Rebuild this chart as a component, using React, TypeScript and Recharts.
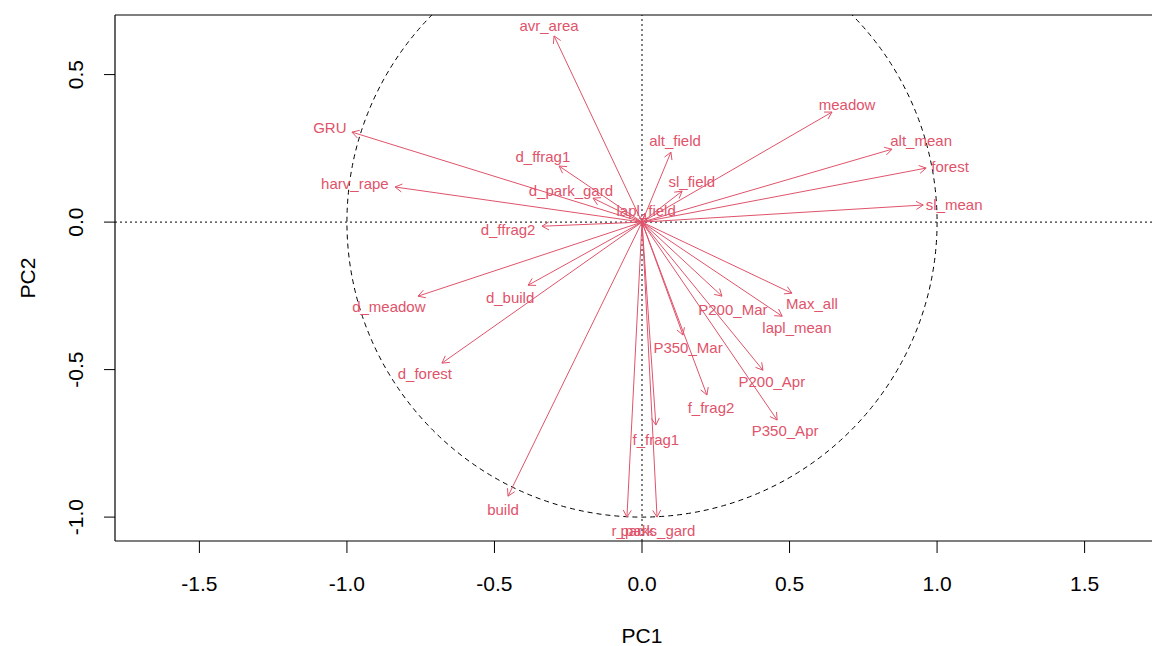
import React from 'react';
import { ScatterChart, Scatter, XAxis, YAxis, ReferenceLine, ReferenceArea, Label } from 'recharts';

const RED = '#DF536B';
const FONT = '"Liberation Sans", Arial, Helvetica, sans-serif';

// variable loadings (arrow tips) on PC1 / PC2
const variables = [
  'avr_area', 'GRU', 'harv_rape', 'd_ffrag1', 'd_park_gard', 'd_ffrag2', 'lapl_field',
  'alt_field', 'sl_field', 'meadow', 'alt_mean', 'forest', 'sl_mean',
  'd_meadow', 'd_build', 'd_forest', 'build', 'r_park', 'parks_gard',
  'f_frag1', 'f_frag2', 'P350_Mar', 'P200_Mar', 'Max_all', 'lapl_mean', 'P200_Apr', 'P350_Apr',
];
const pc1 = [
  -0.298, -0.983, -0.837, -0.281, -0.166, -0.339, 0.01,
  0.098, 0.136, 0.644, 0.847, 0.963, 0.953,
  -0.759, -0.386, -0.678, -0.454, -0.051, 0.051,
  0.047, 0.22, 0.139, 0.271, 0.508, 0.475, 0.41, 0.458,
];
const pc2 = [
  0.631, 0.305, 0.119, 0.19, 0.081, -0.014, 0.03,
  0.237, 0.105, 0.373, 0.247, 0.183, 0.058,
  -0.251, -0.214, -0.478, -0.929, -1.0, -1.0,
  -0.688, -0.586, -0.383, -0.251, -0.241, -0.319, -0.502, -0.671,
];
// where each name is written
const labelPc1 = [
  -0.315, -1.058, -0.973, -0.336, -0.241, -0.454, 0.014,
  0.112, 0.169, 0.695, 0.946, 1.044, 1.058,
  -0.858, -0.447, -0.736, -0.471, -0.031, 0.054,
  0.047, 0.234, 0.156, 0.308, 0.576, 0.525, 0.44, 0.485,
];
const labelPc2 = [
  0.668, 0.322, 0.132, 0.224, 0.108, -0.024, 0.041,
  0.275, 0.136, 0.397, 0.278, 0.19, 0.061,
  -0.285, -0.254, -0.512, -0.973, -1.047, -1.047,
  -0.736, -0.627, -0.424, -0.295, -0.275, -0.356, -0.542, -0.708,
];

const xTicks = [-1.5, -1, -0.5, 0, 0.5, 1, 1.5];
const yTicks = [-1, -0.5, 0, 0.5];
const xDomain = [-1.786, 1.786];
const yDomain = [-1.081, 0.702];

const labels = variables.map((name, i) => ({ name, x: labelPc1[i], y: labelPc2[i] }));

const ArrowShape = (props: any) => {
  const { x1, y1, x2, y2 } = props;
  const ang = Math.atan2(y2 - y1, x2 - x1);
  const len = 8;
  const spread = Math.PI / 6;
  const ax = x2 - len * Math.cos(ang - spread);
  const ay = y2 - len * Math.sin(ang - spread);
  const bx = x2 - len * Math.cos(ang + spread);
  const by = y2 - len * Math.sin(ang + spread);
  return (
    <g>
      <line x1={x1} y1={y1} x2={x2} y2={y2} stroke={RED} strokeWidth={1} />
      <path d={`M${ax},${ay}L${x2},${y2}L${bx},${by}`} fill="none" stroke={RED} strokeWidth={1} />
    </g>
  );
};

// unit circle, drawn inside the rectangle [-1,1] x [-1,1] and clipped to the plot
const CircleShape = (props: any) => {
  const { x, y, width, height, clipPath } = props;
  return (
    <ellipse
      cx={x + width / 2}
      cy={y + height / 2}
      rx={Math.abs(width) / 2}
      ry={Math.abs(height) / 2}
      fill="none"
      stroke="#000"
      strokeWidth={1}
      strokeDasharray="5 4"
      clipPath={clipPath}
    />
  );
};

const NameShape = (props: any) => (
  <text
    x={props.cx}
    y={props.cy}
    textAnchor="middle"
    dominantBaseline="central"
    fontSize={15}
    fontFamily={FONT}
    fill={RED}
  >
    {props.payload.name}
  </text>
);

const XTick = (props: any) => (
  <text x={props.x} y={props.y + 36} textAnchor="middle" fontSize={21} fontFamily={FONT} fill="#000">
    {props.payload.value.toFixed(1)}
  </text>
);

const YTick = (props: any) => {
  const x = props.x - 19;
  return (
    <text x={x} y={props.y} transform={`rotate(-90, ${x}, ${props.y})`} textAnchor="middle" fontSize={21} fontFamily={FONT} fill="#000">
      {props.payload.value.toFixed(1)}
    </text>
  );
};

export default function App() {
  return (
    <div style={{ position: 'absolute', left: 0, top: 0, width: 1152, height: 646, overflow: 'hidden', background: '#fff' }}>
      <ScatterChart width={1179} height={646} margin={{ top: 15, right: 10, bottom: 0, left: 0 }}>
        <XAxis
          type="number"
          dataKey="x"
          domain={xDomain}
          ticks={xTicks}
          interval={0}
          allowDataOverflow
          height={105}
          tickSize={12}
          tickLine={{ stroke: '#000' }}
          axisLine={{ stroke: '#000', strokeWidth: 1.2 }}
          tick={<XTick />}
        >
          <Label
            content={(p: any) => (
              <text x={p.viewBox.x + p.viewBox.width / 2} y={p.viewBox.y + 102} textAnchor="middle" fontSize={21} fontFamily={FONT} fill="#000">
                PC1
              </text>
            )}
          />
        </XAxis>
        <YAxis
          type="number"
          dataKey="y"
          domain={yDomain}
          ticks={yTicks}
          interval={0}
          allowDataOverflow
          width={115}
          tickSize={11}
          tickLine={{ stroke: '#000' }}
          axisLine={{ stroke: '#000', strokeWidth: 1.2 }}
          tick={<YTick />}
        >
          <Label
            content={(p: any) => {
              const cx = 35;
              const cy = p.viewBox.y + p.viewBox.height / 2;
              return (
                <text x={cx} y={cy} transform={`rotate(-90, ${cx}, ${cy})`} textAnchor="middle" fontSize={21} fontFamily={FONT} fill="#000">
                  PC2
                </text>
              );
            }}
          />
        </YAxis>
        <ReferenceLine y={yDomain[1]} stroke="#000" strokeWidth={1.2} />
        <ReferenceArea x1={-1} x2={1} y1={-1} y2={1} ifOverflow="hidden" shape={<CircleShape />} />
        <ReferenceLine x={0} stroke="#000" strokeWidth={1} strokeDasharray="2 3" />
        <ReferenceLine y={0} stroke="#000" strokeWidth={1} strokeDasharray="2 3" />
        {variables.map((name, i) => (
          <ReferenceLine
            key={name}
            segment={[{ x: 0, y: 0 }, { x: pc1[i], y: pc2[i] }]}
            ifOverflow="visible"
            shape={ArrowShape}
          />
        ))}
        <Scatter data={labels} dataKey="y" shape={NameShape} isAnimationActive={false} />
      </ScatterChart>
    </div>
  );
}
